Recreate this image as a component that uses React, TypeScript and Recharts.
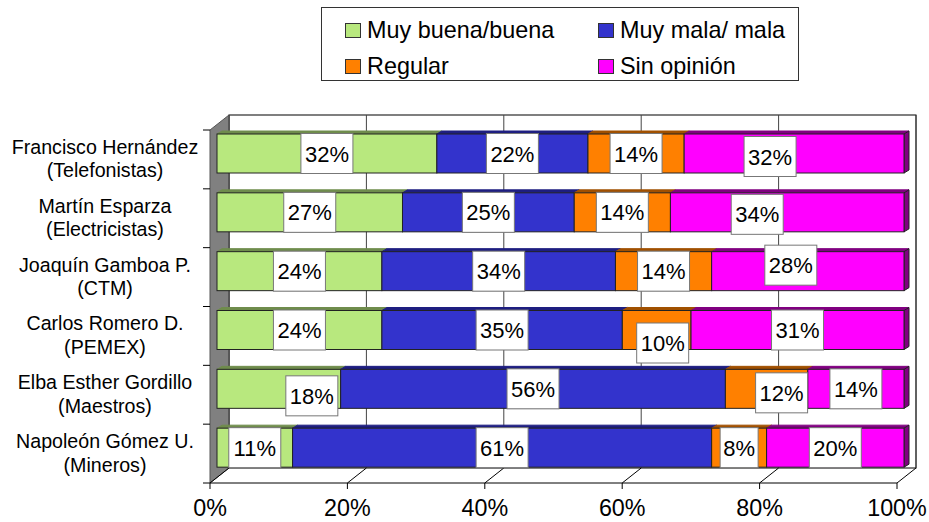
import React from "react";
import { BarChart, Bar, XAxis, YAxis, LabelList, Legend, usePlotArea } from "recharts";

const names = [
  ["Francisco Hernández", "(Telefonistas)"],
  ["Martín Esparza", "(Electricistas)"],
  ["Joaquín Gamboa P.", "(CTM)"],
  ["Carlos Romero D.", "(PEMEX)"],
  ["Elba Esther Gordillo", "(Maestros)"],
  ["Napoleón Gómez U.", "(Mineros)"],
];
const buena = [32, 27, 24, 24, 18, 11];
const mala = [22, 25, 34, 35, 56, 61];
const regular = [14, 14, 14, 10, 12, 8];
const sinOpinion = [32, 34, 28, 31, 14, 20];
const xTicks = [0, 20, 40, 60, 80, 100];

const data = names.map((n, i) => ({
  name: n.join("|"),
  buena: buena[i],
  mala: mala[i],
  regular: regular[i],
  sin: sinOpinion[i],
}));

const FONT = "'Liberation Sans', Arial, sans-serif";
const DX = 19; // back wall offset
const DY = 15;
const SHIFT_X = -7; // front plane relative to bars
const SHIFT_Y = 6;

// manual label displacement, as in the original
const labelMoves: Record<string, [number, number][]> = {
  buena: [[0, 0], [0, 0], [0, 0], [0, 0], [33, 7], [0, 0]],
  mala: [[0, 0], [0, 0], [0, 0], [0, 0], [0, 0], [0, 0]],
  regular: [[0, 0], [0, 0], [0, 0], [6, 13], [15, 4], [0, 0]],
  sin: [[-24, 3], [-30, 2], [-17, -6], [0, 0], [0, 0], [0, 0]],
};

const shade: Record<string, string> = {
  "#B8E87E": "#6F8C4C",
  "#3333CC": "#1E1E80",
  "#FF8000": "#A05000",
  "#FF00FF": "#800080",
};

function Bar3D(props: any) {
  const { x, y, width, height, fill, edge } = props;
  const d = 5;
  const t = 3;
  const dark = shade[fill];
  return (
    <g>
      <polygon points={`${x},${y} ${x + d},${y - t} ${x + width + d},${y - t} ${x + width},${y}`} fill={dark} stroke={dark} strokeWidth={1} />
      {edge && (
        <polygon points={`${x + width},${y} ${x + width + d},${y - t} ${x + width + d},${y + height - t} ${x + width},${y + height}`} fill={dark} stroke="#222" strokeWidth={1} />
      )}
      <rect x={x} y={y} width={width} height={height} fill={fill} stroke="#222" strokeWidth={1} />
    </g>
  );
}

function Frame() {
  const p = usePlotArea();
  if (!p) return null;
  const x0 = p.x + SHIFT_X;
  const x1 = x0 + p.width;
  const top = p.y + SHIFT_Y;
  const bottom = top + p.height;
  const rows = names.length;
  return (
    <g>
      <rect x={x0 + DX} y={top - DY} width={p.width} height={p.height} fill="#fff" stroke="#000" />
      <polygon points={`${x0},${top} ${x0 + DX},${top - DY} ${x0 + DX},${bottom - DY} ${x0},${bottom}`} fill="#808080" stroke="#555" />
      {xTicks.map((t) => {
        const x = x0 + (p.width * t) / 100;
        return (
          <g key={t}>
            <line x1={x + DX} x2={x + DX} y1={top - DY} y2={bottom - DY} stroke="#444" />
            <line x1={x} x2={x + DX} y1={bottom} y2={bottom - DY} stroke="#000" />
            <line x1={x} x2={x} y1={bottom} y2={bottom + 6} stroke="#000" />
          </g>
        );
      })}
      <line x1={x0} x2={x1} y1={bottom} y2={bottom} stroke="#000" />
      {Array.from({ length: rows + 1 }, (_, i) => {
        const y = top + (p.height * i) / rows;
        return <line key={i} x1={x0 - 7} x2={x0} y1={y} y2={y} stroke="#000" />;
      })}
    </g>
  );
}

function CatTick(props: any) {
  const { y, payload } = props;
  const [a, b] = String(payload.value).split("|");
  return (
    <text fontFamily={FONT} fontSize={16.5 * 1.19} fill="#000" textAnchor="middle">
      <tspan x={105} y={y + 0.5}>{a}</tspan>
      <tspan x={105} y={y + 24}>{b}</tspan>
    </text>
  );
}

function ValTick(props: any) {
  const { x, y, payload } = props;
  return (
    <text x={x + SHIFT_X} y={y + 31} fontFamily={FONT} fontSize={23.3} fill="#000" textAnchor="middle">
      {payload.value}%
    </text>
  );
}

function makeLabel(key: string) {
  return function BoxLabel(props: any) {
    const { x, y, width, height, value, index } = props;
    const [mx, my] = labelMoves[key][index];
    const cx = x + width / 2 + mx;
    const cy = y + height / 2 + my;
    const w = value >= 10 ? 52 : 38;
    return (
      <g>
        <rect x={cx - w / 2} y={cy - 20} width={w} height={40} fill="#fff" stroke="#777" strokeWidth={1} />
        <text x={cx} y={cy + 8} fontFamily={FONT} fontSize={22} fill="#000" textAnchor="middle">
          {value}%
        </text>
      </g>
    );
  };
}

function LegendBox(props: any) {
  const items = props.payload || [];
  const pos: Record<string, [number, number]> = {
    "Muy buena/buena": [23, 9],
    "Muy mala/ mala": [276, 9],
    "Regular": [23, 45],
    "Sin opinión": [276, 45],
  };
  return (
    <div style={{ position: "relative", width: 478, height: 74, border: "1px solid #333", boxSizing: "border-box", background: "#fff", fontFamily: FONT, fontSize: 23.4 }}>
      {items.map((it: any) => {
        const [l, t] = pos[it.value] || [0, 0];
        return (
          <div key={it.value} style={{ position: "absolute", left: l, top: t, display: "flex", alignItems: "center", lineHeight: "26px", whiteSpace: "nowrap", color: "#000" }}>
            <span style={{ width: 14, height: 13, background: it.color, border: "1px solid #333", marginRight: 6, display: "inline-block" }} />
            {it.value}
          </div>
        );
      })}
    </div>
  );
}

export default function App() {
  return (
    <div style={{ position: "absolute", left: 0, top: 0, background: "#fff" }}>
      <BarChart
        width={929}
        height={522}
        data={data}
        layout="vertical"
        barCategoryGap={0}
        barSize={39}
        margin={{ top: 50, right: 25, bottom: 0, left: 0 }}
      >
        <Frame />
        <XAxis type="number" domain={[0, 100]} ticks={xTicks} interval={0} axisLine={false} tickLine={false} tick={<ValTick />} height={45} />
        <YAxis type="category" dataKey="name" width={217} axisLine={false} tickLine={false} interval={0} tick={<CatTick />} />
        <Legend
          content={<LegendBox />}
          layout="horizontal"
          verticalAlign="top"
          wrapperStyle={{ position: "absolute", left: 321, top: 7, width: 478, height: 74 }}
        />
        <Bar dataKey="buena" name="Muy buena/buena" stackId="a" fill="#B8E87E" isAnimationActive={false} shape={<Bar3D />}>
          <LabelList dataKey="buena" content={makeLabel("buena")} />
        </Bar>
        <Bar dataKey="mala" name="Muy mala/ mala" stackId="a" fill="#3333CC" isAnimationActive={false} shape={<Bar3D />}>
          <LabelList dataKey="mala" content={makeLabel("mala")} />
        </Bar>
        <Bar dataKey="regular" name="Regular" stackId="a" fill="#FF8000" isAnimationActive={false} shape={<Bar3D />}>
          <LabelList dataKey="regular" content={makeLabel("regular")} />
        </Bar>
        <Bar dataKey="sin" name="Sin opinión" stackId="a" fill="#FF00FF" isAnimationActive={false} shape={<Bar3D edge />}>
          <LabelList dataKey="sin" content={makeLabel("sin")} />
        </Bar>
      </BarChart>
    </div>
  );
}
